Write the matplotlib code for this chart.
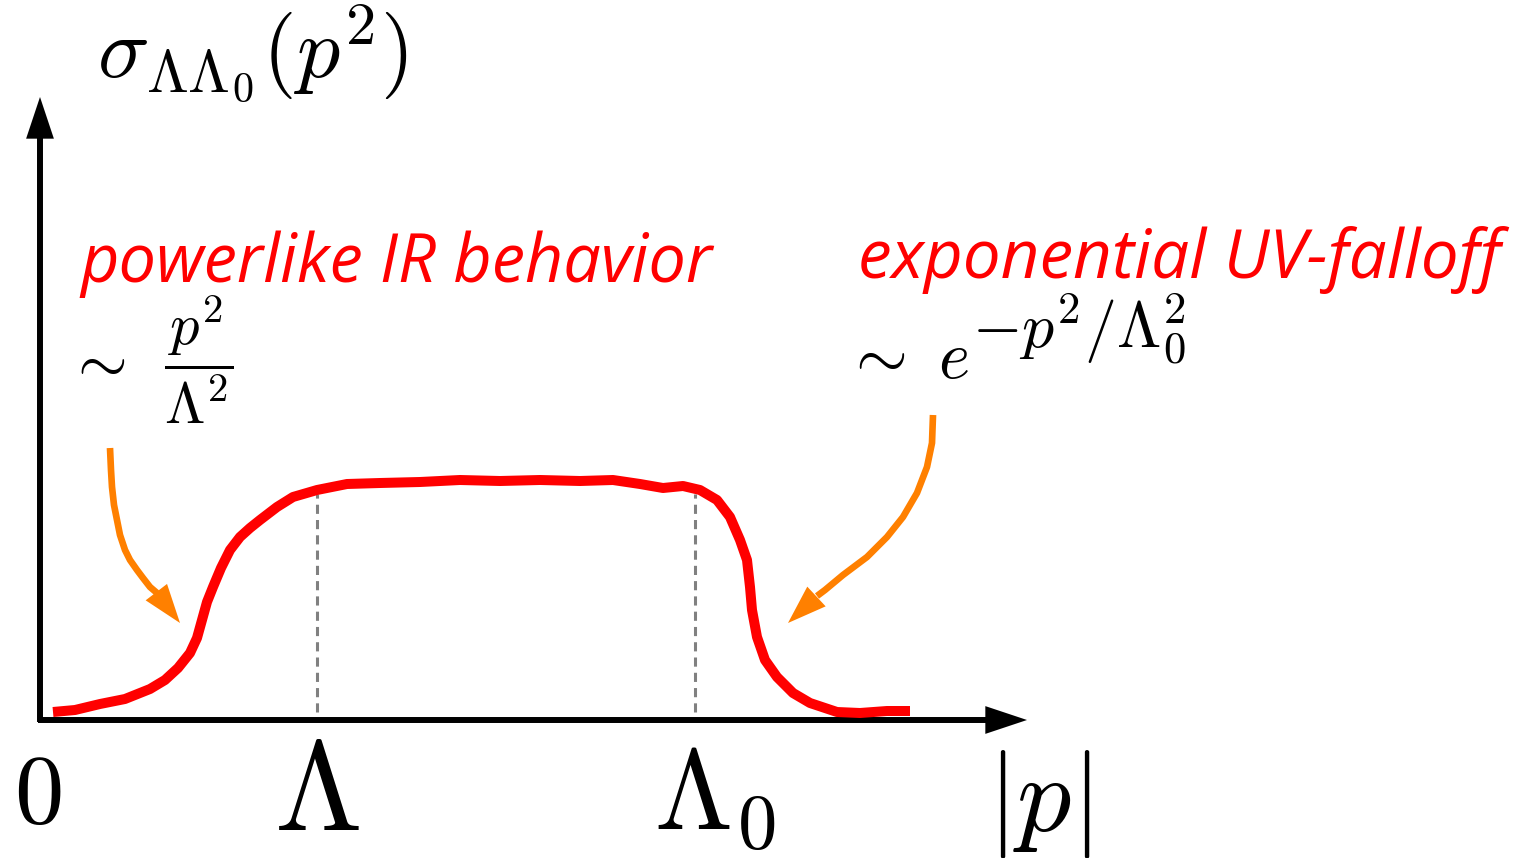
import matplotlib
matplotlib.use('Agg')
import matplotlib.pyplot as plt

plt.rcParams['mathtext.fontset'] = 'cm'

# hand-drawn spectral function (axis units)
curve_x = [0.13, 0.35, 0.60, 0.85, 1.10, 1.25, 1.38, 1.50, 1.57, 1.62, 1.67, 1.73, 1.81,
           1.90, 2.00, 2.10, 2.20, 2.37, 2.53, 2.77, 3.07, 3.40, 3.80, 4.20, 4.60, 5.00,
           5.40, 5.73, 6.00, 6.23, 6.43, 6.60, 6.77, 6.90, 7.00, 7.07, 7.10, 7.12, 7.17,
           7.25, 7.37, 7.53, 7.70, 7.97, 8.20, 8.47, 8.70]
curve_y = [0.08, 0.10, 0.16, 0.21, 0.31, 0.40, 0.52, 0.67, 0.82, 1.00, 1.18, 1.33, 1.52,
           1.70, 1.83, 1.92, 2.00, 2.13, 2.23, 2.30, 2.36, 2.37, 2.38, 2.40, 2.39, 2.40,
           2.39, 2.40, 2.36, 2.32, 2.34, 2.30, 2.20, 2.03, 1.80, 1.60, 1.33, 1.10, 0.83,
           0.60, 0.43, 0.27, 0.17, 0.08, 0.07, 0.09, 0.09]

# scale marks
lam = 2.77
lam0 = 6.55
mark_top = 2.26

# orange pointer arrows (shaft points, then tip)
ir_x = [0.70, 0.71, 0.72, 0.74, 0.77, 0.80, 0.85, 0.90, 0.97, 1.03, 1.10, 1.17]
ir_y = [2.72, 2.50, 2.33, 2.15, 2.00, 1.85, 1.70, 1.60, 1.50, 1.42, 1.33, 1.27]
ir_tip = (1.40, 0.97)
uv_x = [8.93, 8.92, 8.87, 8.77, 8.63, 8.47, 8.27, 8.03, 7.85, 7.77]
uv_y = [3.05, 2.77, 2.53, 2.27, 2.03, 1.83, 1.63, 1.45, 1.30, 1.24]
uv_tip = (7.48, 0.97)

x_tip = 9.87
y_tip = 6.23

red = '#ff0000'
orange = '#ff8000'

fig = plt.figure(figsize=(15.26, 8.58), dpi=100)
ax = fig.add_axes([0, 0, 1, 1])
ax.set_xlim(-0.40, 14.86)
ax.set_ylim(-1.38, 7.20)
ax.axis('off')

# axes with arrow heads
ax.plot([-0.02, x_tip - 0.3], [0, 0], color='black', lw=4.3, solid_capstyle='butt')
ax.plot([0, 0], [-0.02, y_tip - 0.3], color='black', lw=4.3, solid_capstyle='butt')
head = dict(arrowstyle='-|>,head_length=30,head_width=10', mutation_scale=1,
            color='black', lw=0, shrinkA=0, shrinkB=0)
ax.annotate('', xy=(x_tip, 0), xytext=(x_tip - 0.5, 0), arrowprops=head)
ax.annotate('', xy=(0, y_tip), xytext=(0, y_tip - 0.5), arrowprops=head)

# dashed scale lines
for xm in [lam, lam0]:
    ax.plot([xm, xm], [0.08, mark_top], color='#808080', lw=2.2, dashes=(3, 2))

# the curve
ax.plot(curve_x, curve_y, color=red, lw=7.2, solid_capstyle='butt', solid_joinstyle='round')

# pointer arrows
ohead = dict(arrowstyle='-|>,head_length=28,head_width=9.7', mutation_scale=1,
             color=orange, lw=0, shrinkA=0, shrinkB=0)
ax.plot(ir_x, ir_y, color=orange, lw=4.8, solid_capstyle='butt', solid_joinstyle='round')
ax.annotate('', xy=ir_tip, xytext=(ir_x[-1], ir_y[-1]), arrowprops=ohead)
ax.plot(uv_x, uv_y, color=orange, lw=4.8, solid_capstyle='butt', solid_joinstyle='round')
ax.annotate('', xy=uv_tip, xytext=(uv_x[-1], uv_y[-1]), arrowprops=ohead)

# axis labels
ax.text(0.57, 6.43, r'$\sigma_{\Lambda\Lambda_0}(p^2)$', fontsize=62, ha='left', va='baseline')
ax.text(-0.02, -1.03, r'$0$', fontsize=71, ha='center', va='baseline')
ax.text(lam, -1.10, r'$\Lambda$', fontsize=91, ha='center', va='baseline')
ax.text(6.14, -1.10, r'$\Lambda_0$', fontsize=81, ha='left', va='baseline')
ax.text(9.47, -1.10, r'$|p|$', fontsize=78, ha='left', va='baseline')

# annotations
ax.text(0.40, 4.38, 'powerlike IR behavior', color=red, fontsize=48, style='italic',
        family='Open Sans', ha='left', va='baseline')
ax.text(8.18, 4.42, 'exponential UV-falloff', color=red, fontsize=48.5, style='italic',
        family='Open Sans', ha='left', va='baseline')

ax.text(0.26, 3.39, r'$\sim$', fontsize=46, ha='left', va='baseline')
ax.text(1.24, 3.42, r'$\dfrac{p^2}{\Lambda^2}$', fontsize=42, ha='left', va='baseline')

ax.text(8.04, 3.42, r'$\sim\ e$', fontsize=48, ha='left', va='baseline')
ax.text(9.32, 3.72, r'$-p^2/\Lambda_0^2$', fontsize=46, ha='left', va='baseline')

fig.savefig('out.png', dpi=100)
